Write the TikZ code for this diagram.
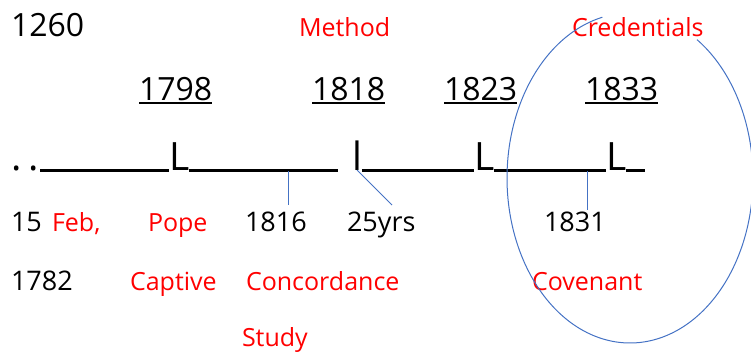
\documentclass[tikz,border=0pt]{standalone}
\usepackage{fontspec}
\setmainfont{Open Sans}
\definecolor{txtred}{RGB}{255,0,0}
\definecolor{lineblue}{RGB}{68,114,196}
\begin{document}
\begin{tikzpicture}[x=1pt,y=-1pt,
  every node/.style={inner sep=0pt, outer sep=0pt, anchor=base west},
  bigtxt/.style={font=\fontsize{32}{38}\selectfont},
  smalltxt/.style={font=\fontsize{27}{32}\selectfont},
  redtxt/.style={font=\fontsize{25}{30}\selectfont, text=txtred},
  tltxt/.style={font=\fontsize{39}{46}\selectfont},
  tline/.style={line width=3pt},
  uline/.style={line width=1.8pt},
  conn/.style={draw=lineblue, line width=1pt}]
\useasboundingbox (0,0) rectangle (751,354);
% top row
\node[bigtxt] (n1260) at (11,36) {1260};
\node[redtxt] (method) at (299,36) {Method};
\node[redtxt] (cred) at (572,36) {Credentials};
% years
\node[bigtxt] (y1798) at (139,100) {1798};
\node[bigtxt] (y1818) at (312,100) {1818};
\node[bigtxt] (y1823) at (444,100) {1823};
\node[bigtxt] (y1833) at (585,100) {1833};
\foreach \y in {y1798,y1818,y1823,y1833}
  \draw[uline] ([yshift=-3pt]\y.south west) -- ([yshift=-3pt]\y.south east);
% timeline
\node[tltxt] (d1) at (11,170) {.};
\node[tltxt] (d2) at (28,170) {.};
\node[tltxt] (L1) at (169,170) {L};
\node[tltxt] (l1) at (352,170) {l};
\node[tltxt] (L2) at (474,170) {L};
\node[tltxt] (L3) at (606,170) {L};
\draw[tline] ([xshift=2pt]d2.base east) -- (L1.base west);
\draw[tline] (L1.base east) -- ([xshift=-14pt]l1.base west);
\draw[tline] (l1.base east) -- (L2.base west);
\draw[tline] (L2.base east) -- (L3.base west);
\draw[tline] (L3.base east) -- ([xshift=19pt]L3.base east);
% connectors
\coordinate (c1a) at (288,171);
\coordinate (c1b) at (288,205);
\coordinate (c2a) at (357,170);
\coordinate (c2b) at (392,205);
\coordinate (c3a) at (587,171);
\coordinate (c3b) at (587,210);
\draw[conn] (c1a) -- (c1b);
\draw[conn] (c2a) -- (c2b);
\draw[conn] (c3a) -- (c3b);
% row 1
\node[smalltxt] (t15) at (11,231) {15};
\node[redtxt] (feb) at (52,231) {Feb,};
\node[redtxt] (pope) at (148,231) {Pope};
\node[smalltxt] (t1816) at (245,231) {1816};
\node[smalltxt] (t25) at (347,231) {25yrs};
\node[smalltxt] (t1831) at (544,231) {1831};
% row 2
\node[smalltxt] (t1782) at (11,290) {1782};
\node[redtxt] (captive) at (130,290) {Captive};
\node[redtxt] (concord) at (246,290) {Concordance};
\node[redtxt] (coven) at (532,290) {Covenant};
% row 3
\node[redtxt] (study) at (242,346) {Study};
% ellipse (open at the top)
\draw[conn] plot[domain=103:417, samples=120, smooth] ({630+123*cos(\x)},{178-165*sin(\x)});
\end{tikzpicture}
\end{document}
